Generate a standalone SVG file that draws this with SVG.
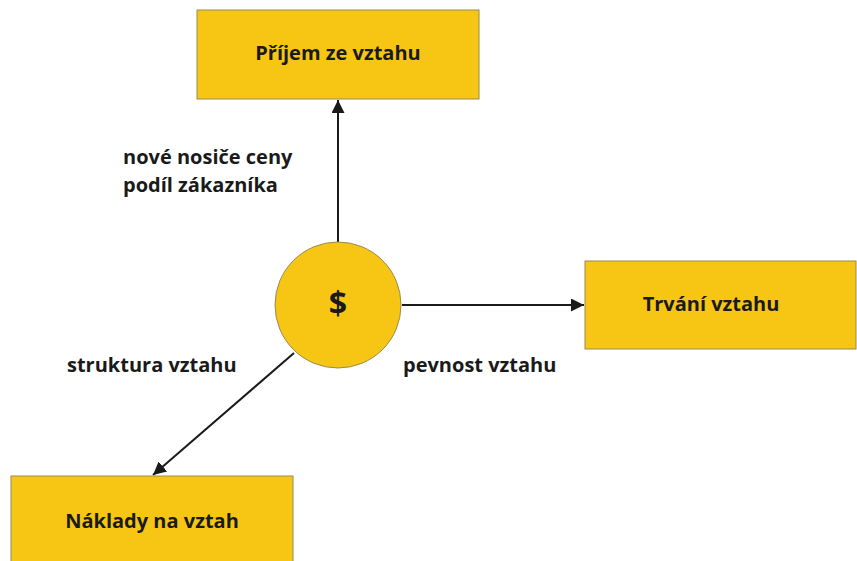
<svg xmlns="http://www.w3.org/2000/svg" width="857" height="561" viewBox="0 0 857 561">
<style>
.box{fill:#F7C614;stroke:#9a8a50;stroke-width:1}
.t{font-family:"Open Sans","Noto Sans",sans-serif;font-weight:bold;font-size:20px;fill:#1a1a1a}
.c{text-anchor:middle}
.ln{stroke:#1a1a1a;stroke-width:2;fill:none;marker-end:url(#ah)}
</style>
<defs>
<marker id="ah" viewBox="0 0 10 10" refX="10" refY="5" markerWidth="6.5" markerHeight="6.5" orient="auto" markerUnits="strokeWidth">
<path d="M0,0 L10,5 L0,10 z" fill="#1a1a1a"/>
</marker>
</defs>
<rect width="857" height="561" fill="#ffffff"/>
<g id="connectors">
<line class="ln" x1="338" y1="242" x2="338" y2="100"/>
<line class="ln" x1="402" y1="305" x2="584" y2="305"/>
<line class="ln" x1="294" y1="353" x2="153" y2="475"/>
</g>
<g id="prijem">
<rect class="box" x="197" y="10" width="282" height="89"/>
<text class="t c" x="338" y="60">Příjem ze vztahu</text>
</g>
<g id="trvani">
<rect class="box" x="585" y="261" width="271" height="88"/>
<text class="t c" x="711" y="311">Trvání vztahu</text>
</g>
<g id="naklady">
<rect class="box" x="11" y="476" width="282" height="95"/>
<text class="t c" x="152" y="528">Náklady na vztah</text>
</g>
<g id="center">
<circle class="box" cx="338" cy="305" r="63"/>
<text class="t c" x="338" y="315" style="font-size:32px">$</text>
</g>
<g id="labels">
<text class="t" x="123" y="164">nové nosiče ceny</text>
<text class="t" x="123" y="192">podíl zákazníka</text>
<text class="t" x="67" y="372">struktura vztahu</text>
<text class="t" x="403" y="372">pevnost vztahu</text>
</g>
</svg>
